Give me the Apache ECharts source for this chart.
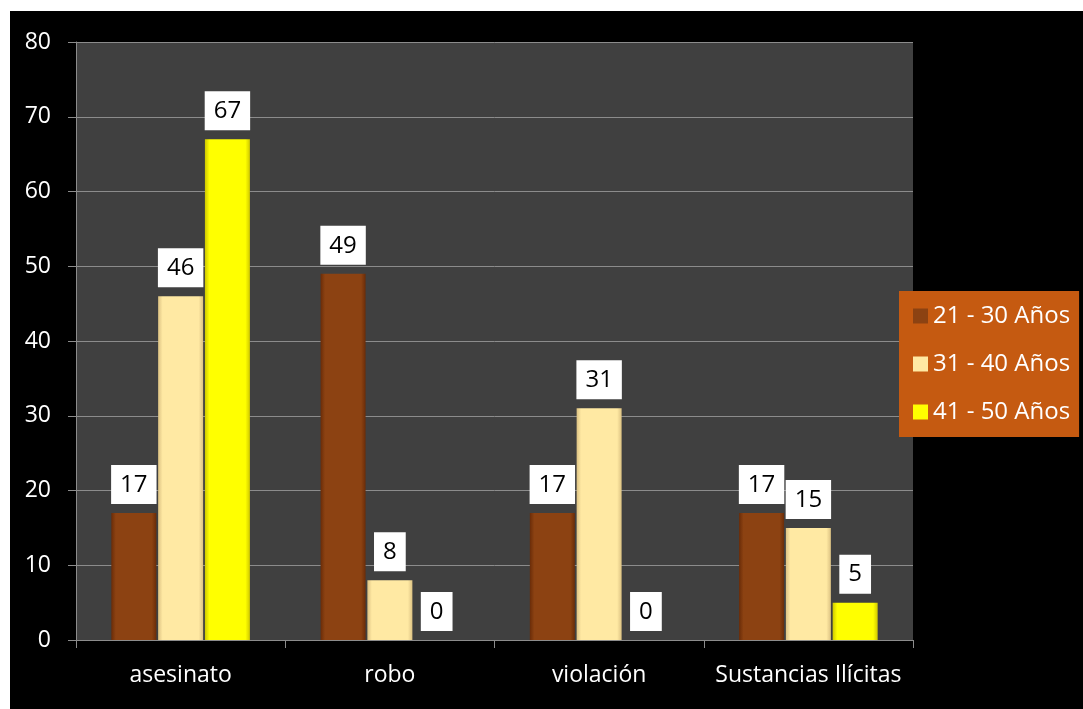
<!DOCTYPE html>
<html>
<head>
<meta charset="utf-8">
<script src="https://cdn.jsdelivr.net/npm/echarts@6/dist/echarts.min.js"></script>
<style>
html,body{margin:0;padding:0;background:#fff;}
#c{width:1083px;height:709px;}
</style>
</head>
<body>
<div id="c"></div>
<script>
const categories = ['asesinato', 'robo', 'violación', 'Sustancias Ilícitas'];
const seriesNames = ['21 - 30 Años', '31 - 40 Años', '41 - 50 Años'];
const age21to30 = [17, 49, 17, 17];
const age31to40 = [46, 8, 31, 15];
const age41to50 = [67, 0, 0, 5];
const yTicks = {min: 0, max: 80, interval: 10};

const FONT = '"Open Sans", "Noto Sans", sans-serif';

function grad(edge, mid) {
  return new echarts.graphic.LinearGradient(0, 0, 1, 0, [
    {offset: 0, color: edge},
    {offset: 0.1, color: mid},
    {offset: 0.9, color: mid},
    {offset: 1, color: edge}
  ]);
}
const styles = [
  {color: grad('#6A2C08', '#8C4212'), legend: '#8C4212'},
  {color: grad('#DCC283', '#FFE9A3'), legend: '#FFE9A3'},
  {color: grad('#CFC800', '#FFFF00'), legend: '#FFFF00'}
];

const dataSets = [age21to30, age31to40, age41to50];

const chart = echarts.init(document.getElementById('c'), null, {renderer: 'canvas'});
chart.setOption({
  backgroundColor: '#ffffff',
  animation: false,
  graphic: [{
    type: 'rect', left: 10, top: 11, z: -10, silent: true,
    shape: {width: 1073, height: 698},
    style: {fill: '#000000'}
  }],
  grid: {left: 76, right: 170, top: 42, bottom: 69, containLabel: false,
         show: true, backgroundColor: '#404040', borderWidth: 0},
  legend: {
    orient: 'vertical',
    left: 899, top: 291,
    backgroundColor: '#C55A11',
    padding: [13, 9, 13, 14],
    itemWidth: 15, itemHeight: 15, itemGap: 24,
    textStyle: {color: '#ffffff', fontSize: 24, fontFamily: FONT},
    data: seriesNames.map((n, i) => ({name: n, icon: 'rect', itemStyle: {color: styles[i].legend, borderWidth: 0}}))
  },
  xAxis: {
    type: 'category', data: categories,
    axisLine: {show: true, lineStyle: {color: '#8C8C8C', width: 1}},
    axisTick: {show: true, length: 8, lineStyle: {color: '#8C8C8C'}},
    axisLabel: {color: '#ffffff', fontSize: 23, fontFamily: FONT, margin: 24, interval: 0}
  },
  yAxis: {
    type: 'value', min: yTicks.min, max: yTicks.max, interval: yTicks.interval,
    axisLine: {show: true, lineStyle: {color: '#8C8C8C', width: 1}},
    axisTick: {show: true, length: 8, lineStyle: {color: '#8C8C8C'}},
    splitLine: {show: true, lineStyle: {color: '#8C8C8C', width: 1}},
    axisLabel: {color: '#ffffff', fontSize: 23, fontFamily: FONT, margin: 25}
  },
  series: dataSets.map((d, i) => ({
    name: seriesNames[i],
    type: 'bar',
    data: d,
    barWidth: 45,
    barGap: '4%',
    itemStyle: {color: styles[i].color, borderWidth: 0},
    label: {
      show: true, position: 'top', distance: 9,
      color: '#000000', backgroundColor: '#ffffff',
      fontSize: 24, fontFamily: FONT,
      padding: [8, 9, 7, 9]
    }
  }))
});
</script>
</body>
</html>
